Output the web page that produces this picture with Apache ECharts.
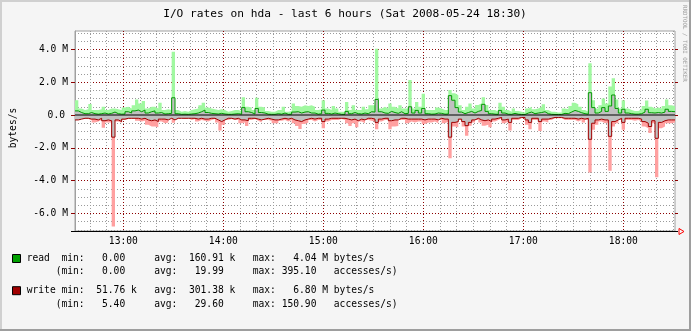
<!DOCTYPE html>
<html>
<head>
<meta charset="utf-8">
<script src="https://cdn.jsdelivr.net/npm/echarts@6/dist/echarts.min.js"></script>
<style>
html, body { margin: 0; padding: 0; background: #f5f5f5; }
#chart { width: 691px; height: 331px; }
</style>
</head>
<body>
<div id="chart"></div>
<script>
// Time axis: minutes of the day, samples every 2 minutes from 12:31 to 18:31
const startMinute = 751;
const stepMinutes = 2;
const endMinute = 1111;

// Read rate, bytes/s (in millions): peak per step and average per step
const readMax = [
  0.9, 0.4, 0.3, 0.35, 0.67, 0.3, 0.3, 0.35, 0.5, 0.3,
  0.4, 0.4, 0.35, 0.3, 0.45, 0.5, 0.4, 0.6, 0.95, 0.7,
  0.85, 0.4, 0.5, 0.5, 0.4, 0.75, 0.3, 0.35, 0.3, 3.86,
  0.3, 0.2, 0.25, 0.2, 0.3, 0.35, 0.4, 0.6, 0.75, 0.45,
  0.4, 0.35, 0.3, 0.35, 0.3, 0.2, 0.25, 0.3, 0.3, 0.25,
  1.08, 0.5, 0.45, 0.3, 1.05, 0.5, 0.45, 0.25, 0.2, 0.2,
  0.3, 0.3, 0.5, 0.2, 0.25, 0.7, 0.55, 0.5, 0.6, 0.55,
  0.6, 0.5, 0.3, 0.35, 0.9, 0.4, 0.3, 0.55, 0.4, 0.2,
  0.2, 0.8, 0.3, 0.6, 0.3, 0.3, 0.5, 0.35, 0.6, 0.6,
  4.04, 0.4, 0.5, 0.4, 0.7, 0.5, 0.4, 0.6, 0.4, 0.4,
  2.13, 0.4, 0.8, 0.5, 1.3, 0.3, 0.3, 0.3, 0.45, 0.4,
  0.3, 0.3, 1.52, 1.32, 1.2, 0.6, 0.3, 0.5, 0.7, 0.4,
  0.61, 0.71, 1.08, 0.61, 0.3, 0.3, 0.2, 0.75, 0.5, 0.3,
  0.2, 0.4, 0.25, 0.2, 0.15, 0.4, 0.5, 0.35, 0.4, 0.5,
  0.65, 0.3, 0.2, 0.2, 0.15, 0.15, 0.4, 0.35, 0.55, 0.75,
  0.65, 0.5, 0.3, 0.2, 3.15, 0.9, 0.4, 0.6, 1.0, 0.7,
  1.73, 2.24, 0.95, 0.4, 0.9, 0.4, 0.3, 0.25, 0.25, 0.35,
  0.55, 0.88, 0.5, 0.4, 0.45, 0.4, 0.55, 0.95, 0.6, 0.55
];
const readAvg = [
  0.25, 0.15, 0.08, 0.08, 0.15, 0.08, 0.05, 0.08, 0.12, 0.06,
  0.1, 0.18, 0.08, 0.05, 0.06, 0.2, 0.12, 0.25, 0.3, 0.2,
  0.3, 0.12, 0.2, 0.25, 0.12, 0.15, 0.06, 0.08, 0.1, 1.05,
  0.08, 0.04, 0.05, 0.04, 0.06, 0.08, 0.12, 0.2, 0.3, 0.15,
  0.1, 0.08, 0.06, 0.1, 0.06, 0.04, 0.04, 0.06, 0.08, 0.05,
  0.45, 0.2, 0.15, 0.06, 0.4, 0.15, 0.12, 0.05, 0.04, 0.04,
  0.08, 0.05, 0.12, 0.04, 0.05, 0.18, 0.2, 0.12, 0.18, 0.2,
  0.12, 0.12, 0.05, 0.08, 0.3, 0.1, 0.06, 0.12, 0.08, 0.04,
  0.04, 0.22, 0.08, 0.15, 0.08, 0.06, 0.12, 0.08, 0.2, 0.18,
  0.95, 0.2, 0.12, 0.1, 0.22, 0.15, 0.1, 0.2, 0.08, 0.1,
  0.5, 0.12, 0.28, 0.12, 0.4, 0.08, 0.05, 0.06, 0.12, 0.1,
  0.05, 0.06, 1.18, 0.9, 0.45, 0.18, 0.08, 0.15, 0.22, 0.12,
  0.22, 0.28, 0.65, 0.22, 0.08, 0.05, 0.04, 0.28, 0.12, 0.05,
  0.04, 0.1, 0.05, 0.03, 0.03, 0.12, 0.18, 0.08, 0.12, 0.15,
  0.2, 0.08, 0.04, 0.03, 0.03, 0.03, 0.1, 0.08, 0.18, 0.28,
  0.22, 0.14, 0.08, 0.05, 1.36, 0.45, 0.12, 0.22, 0.45, 0.22,
  0.55, 1.22, 0.4, 0.12, 0.35, 0.12, 0.08, 0.05, 0.05, 0.08,
  0.18, 0.35, 0.14, 0.12, 0.15, 0.12, 0.18, 0.35, 0.22, 0.2
];

// Write rate, bytes/s (in millions), drawn below the zero line
const writeMax = [
  0.3, 0.25, 0.2, 0.25, 0.3, 0.45, 0.4, 0.3, 0.77, 0.45,
  0.45, 6.80, 0.4, 0.47, 0.3, 0.25, 0.25, 0.2, 0.35, 0.4,
  0.35, 0.6, 0.7, 0.7, 0.75, 0.4, 0.5, 0.45, 0.25, 0.47,
  0.25, 0.2, 0.25, 0.2, 0.3, 0.25, 0.4, 0.3, 0.35, 0.4,
  0.3, 0.25, 0.45, 0.95, 0.6, 0.3, 0.25, 0.3, 0.3, 0.5,
  0.45, 0.67, 0.3, 0.25, 0.35, 0.45, 0.3, 0.3, 0.35, 0.5,
  0.5, 0.35, 0.3, 0.4, 0.3, 0.5, 0.67, 0.85, 0.55, 0.45,
  0.3, 0.4, 0.3, 0.3, 0.8, 0.4, 0.3, 0.3, 0.3, 0.25,
  0.3, 0.5, 0.67, 0.5, 0.75, 0.4, 0.5, 0.3, 0.35, 0.4,
  0.87, 0.4, 0.3, 0.3, 0.87, 0.7, 0.67, 0.3, 0.3, 0.5,
  0.4, 0.45, 0.4, 0.4, 0.55, 0.45, 0.45, 0.4, 0.5, 0.3,
  0.5, 0.4, 2.64, 0.7, 0.75, 0.3, 0.7, 1.26, 0.65, 0.45,
  0.3, 0.45, 0.65, 0.6, 0.75, 0.4, 0.3, 0.2, 0.5, 0.4,
  0.95, 0.3, 0.3, 0.2, 0.2, 0.6, 0.87, 0.3, 0.3, 0.97,
  0.4, 0.45, 0.3, 0.2, 0.2, 0.2, 0.3, 0.3, 0.3, 0.3,
  0.4, 0.3, 0.45, 0.3, 3.5, 0.9, 0.6, 0.4, 0.5, 0.45,
  3.4, 0.7, 0.5, 0.3, 0.9, 0.3, 0.3, 0.35, 0.3, 0.4,
  0.7, 0.8, 1.1, 0.5, 3.8, 0.8, 0.7, 0.5, 0.5, 0.45
];
const writeAvg = [
  0.3, 0.25, 0.2, 0.2, 0.25, 0.25, 0.3, 0.2, 0.35, 0.3,
  0.35, 1.35, 0.3, 0.4, 0.25, 0.2, 0.2, 0.2, 0.2, 0.25,
  0.2, 0.3, 0.35, 0.3, 0.4, 0.25, 0.25, 0.3, 0.2, 0.3,
  0.2, 0.2, 0.2, 0.2, 0.2, 0.2, 0.25, 0.2, 0.25, 0.25,
  0.2, 0.2, 0.3, 0.4, 0.3, 0.2, 0.2, 0.25, 0.2, 0.3,
  0.3, 0.35, 0.2, 0.2, 0.25, 0.3, 0.25, 0.2, 0.25, 0.3,
  0.3, 0.25, 0.2, 0.25, 0.2, 0.3, 0.35, 0.4, 0.3, 0.25,
  0.2, 0.25, 0.2, 0.2, 0.4, 0.25, 0.2, 0.2, 0.2, 0.2,
  0.2, 0.25, 0.3, 0.25, 0.35, 0.25, 0.3, 0.2, 0.2, 0.25,
  0.45, 0.25, 0.2, 0.2, 0.35, 0.3, 0.3, 0.2, 0.2, 0.25,
  0.25, 0.25, 0.25, 0.25, 0.3, 0.25, 0.25, 0.25, 0.3, 0.2,
  0.25, 0.25, 1.35, 0.45, 0.4, 0.25, 0.4, 0.65, 0.45, 0.3,
  0.2, 0.3, 0.35, 0.3, 0.4, 0.25, 0.2, 0.15, 0.3, 0.25,
  0.45, 0.2, 0.2, 0.15, 0.15, 0.3, 0.45, 0.2, 0.2, 0.4,
  0.25, 0.25, 0.2, 0.15, 0.15, 0.15, 0.2, 0.2, 0.2, 0.2,
  0.25, 0.2, 0.25, 0.2, 1.48, 0.5, 0.3, 0.25, 0.3, 0.3,
  1.3, 0.4, 0.3, 0.2, 0.45, 0.2, 0.2, 0.2, 0.2, 0.25,
  0.4, 0.5, 0.7, 0.35, 1.42, 0.45, 0.35, 0.3, 0.3, 0.3
];

// Axis ticks
const hourTicks = [780, 840, 900, 960, 1020, 1080];
const yMajorTicks = [-6, -4, -2, 0, 2, 4];
const yMin = -7.07;
const yMax = 5.12;

// Legend statistics
const legendRows = [
  { name: 'read', color: '#00a000',
    bytes: [['0.00', ''], ['160.91', 'k'], ['4.04', 'M']],
    accesses: ['0.00', '19.99', '395.10'] },
  { name: 'write', color: '#a00000',
    bytes: [['51.76', 'k'], ['301.38', 'k'], ['6.80', 'M']],
    accesses: ['5.40', '29.60', '150.90'] }
];

const titleText = 'I/O rates on hda - last 6 hours (Sat 2008-05-24 18:30)';
const yAxisTitle = 'bytes/s';
const creditText = 'RRDTOOL / TOBI OETIKER';

const MONO = '"DejaVu Sans Mono", "Liberation Mono", monospace';
const SMALL = 9.65;

const xMinor = [];
for (let m = 760; m < endMinute; m += 10) if (m % 60 !== 0) xMinor.push(m);
const yMinor = [];
for (let v = -7; v <= 5; v += 0.5) if (v % 2 !== 0) yMinor.push(v);

function stepPairs(values, sign) {
  const pts = values.map((v, i) => [startMinute + i * stepMinutes, sign * v]);
  pts.push([endMinute, sign * values[values.length - 1]]);
  return pts;
}

function hhmm(m) {
  const h = Math.floor(m / 60), mm = m % 60;
  return String(h).padStart(2, '0') + ':' + String(mm).padStart(2, '0');
}

function yLabel(v) {
  if (Math.abs(v) < 1e-9) return '{z|0.0}';
  return v.toFixed(1) + ' M';
}

function legendLines(row) {
  const b = row.bytes, a = row.accesses;
  const u = s => (s || ' ');
  const l1 = row.name.padEnd(6) + 'min:' + b[0][0].padStart(7) + ' ' + u(b[0][1]) +
    '   avg:' + b[1][0].padStart(8) + ' ' + u(b[1][1]) +
    '   max:' + b[2][0].padStart(7) + ' ' + u(b[2][1]) + ' bytes/s';
  const l2 = '     (min:' + a[0].padStart(7) + '     avg:' + a[1].padStart(8) +
    '     max:' + a[2].padStart(7) + '   accesses/s)';
  return [l1, l2];
}

const chart = echarts.init(document.getElementById('chart'), null, { renderer: 'canvas' });

const gridStyle = { type: [1, 2], width: 1 };
const baseX = { type: 'value', min: startMinute, max: endMinute, position: 'bottom', gridIndex: 0 };
const baseY = { type: 'value', min: yMin, max: yMax, gridIndex: 0 };

const option = {
  animation: false,
  backgroundColor: '#f5f5f5',
  grid: {
    left: 75, right: 16, top: 31, bottom: 100,
    show: true, backgroundColor: '#ffffff', borderColor: '#a0a0a0', borderWidth: 1,
    containLabel: false, outerBoundsMode: 'none'
  },
  xAxis: [
    Object.assign({}, baseX, {
      axisLine: { show: false },
      axisTick: { show: false, customValues: xMinor },
      axisLabel: {
        customValues: hourTicks, formatter: hhmm, margin: 5,
        fontFamily: MONO, fontSize: SMALL, color: '#000'
      },
      splitLine: { show: true, lineStyle: Object.assign({ color: '#9a9a9a' }, gridStyle) }
    }),
    Object.assign({}, baseX, {
      axisLine: { show: false },
      axisTick: { show: false, customValues: hourTicks },
      axisLabel: { show: false },
      splitLine: { show: true, lineStyle: Object.assign({ color: '#8c0000' }, gridStyle) }
    })
  ],
  yAxis: [
    Object.assign({}, baseY, {
      position: 'left',
      axisLine: { show: true, lineStyle: { color: '#a0a0a0' } },
      axisTick: { show: false, customValues: yMinor },
      axisLabel: {
        customValues: yMajorTicks, formatter: yLabel, margin: 7,
        fontFamily: MONO, fontSize: SMALL, color: '#000',
        rich: { z: { fontFamily: MONO, fontSize: SMALL, color: '#000', padding: [0, 3, 0, 0] } }
      },
      splitLine: { show: true, lineStyle: Object.assign({ color: '#9a9a9a' }, gridStyle) }
    }),
    Object.assign({}, baseY, {
      position: 'left',
      axisLine: { show: false },
      axisTick: { show: true, length: 4, customValues: yMajorTicks, lineStyle: { color: '#8c0000' } },
      axisLabel: { show: false },
      splitLine: { show: true, lineStyle: Object.assign({ color: '#8c0000' }, gridStyle) }
    }),
    Object.assign({}, baseY, {
      position: 'right',
      axisLine: { show: false },
      axisTick: { show: true, length: 3, customValues: yMajorTicks, lineStyle: { color: '#8c0000' } },
      axisLabel: { show: false },
      splitLine: { show: false }
    })
  ],
  series: [
    {
      name: 'write peak', type: 'line', step: 'end', symbol: 'none',
      data: stepPairs(writeMax, -1),
      lineStyle: { width: 0 }, areaStyle: { color: '#ffa0a0', opacity: 1 }
    },
    {
      name: 'read peak', type: 'line', step: 'end', symbol: 'none',
      data: stepPairs(readMax, 1),
      lineStyle: { width: 0 }, areaStyle: { color: '#a0f8a0', opacity: 1 }
    },
    {
      name: 'write', type: 'line', step: 'end', symbol: 'none',
      data: stepPairs(writeAvg, -1),
      lineStyle: { width: 1, color: '#a00000' }, areaStyle: { color: '#c0c0c0', opacity: 1 }
    },
    {
      name: 'read', type: 'line', step: 'end', symbol: 'none',
      data: stepPairs(readAvg, 1),
      lineStyle: { width: 1, color: '#009a00' }, areaStyle: { color: '#c0c0c0', opacity: 1 }
    },
    {
      name: 'zero', type: 'line', symbol: 'none', silent: true,
      data: [[startMinute, 0], [endMinute, 0]],
      lineStyle: { width: 1.2, color: '#000' }
    }
  ]
};

chart.setOption(option);

// Decorations: frame, titles, legend, axis arrow
const ax0 = chart.convertToPixel({ xAxisIndex: 0 }, startMinute);
const ax1 = chart.convertToPixel({ xAxisIndex: 0 }, endMinute);
const ay = Math.round(chart.convertToPixel({ yAxisIndex: 0 }, yMin)) + 0.5;

const graphics = [
  { type: 'rect', shape: { x: 0, y: 0, width: 691, height: 2 }, style: { fill: '#d0d0d0' }, silent: true },
  { type: 'rect', shape: { x: 0, y: 0, width: 2, height: 331 }, style: { fill: '#d0d0d0' }, silent: true },
  { type: 'rect', shape: { x: 689, y: 0, width: 2, height: 331 }, style: { fill: '#9e9e9e' }, silent: true },
  { type: 'rect', shape: { x: 0, y: 329, width: 691, height: 2 }, style: { fill: '#9e9e9e' }, silent: true },
  {
    type: 'text', x: 345, y: 14, silent: true,
    style: { text: titleText, fontFamily: MONO, fontSize: 11.2, fill: '#000', align: 'center', verticalAlign: 'middle' }
  },
  {
    type: 'text', x: 13, y: 128, rotation: Math.PI / 2, silent: true,
    style: { text: yAxisTitle, fontFamily: MONO, fontSize: SMALL, fill: '#000', align: 'center', verticalAlign: 'middle' }
  },
  {
    type: 'text', x: 685, y: 5, rotation: -Math.PI / 2, silent: true,
    style: { text: creditText, fontFamily: MONO, fontSize: 5.8, fill: '#9a9a9a', align: 'left', verticalAlign: 'middle' }
  },
  {
    type: 'line', z: 100, silent: true,
    shape: { x1: ax0 - 4, y1: ay, x2: ax1 + 3, y2: ay },
    style: { stroke: '#000', lineWidth: 1 }
  },
  {
    type: 'polygon', z: 100, silent: true,
    shape: { points: [[ax1 + 4, ay - 3], [ax1 + 4, ay + 3], [ax1 + 9, ay]] },
    style: { fill: 'none', stroke: '#ff0000', lineWidth: 1 }
  }
];

const legendY = [[258.5, 271], [290.7, 304.3]];
legendRows.forEach((row, r) => {
  const lines = legendLines(row);
  graphics.push({
    type: 'rect', silent: true,
    shape: { x: 12.5, y: legendY[r][0] - 4, width: 8, height: 8 },
    style: { fill: row.color, stroke: '#000', lineWidth: 1 }
  });
  lines.forEach((t, j) => {
    graphics.push({
      type: 'text', x: 26.7, y: legendY[r][j], silent: true,
      style: { text: t, fontFamily: MONO, fontSize: SMALL, fill: '#000', align: 'left', verticalAlign: 'middle' }
    });
  });
});

chart.setOption({ graphic: graphics });
</script>
</body>
</html>
